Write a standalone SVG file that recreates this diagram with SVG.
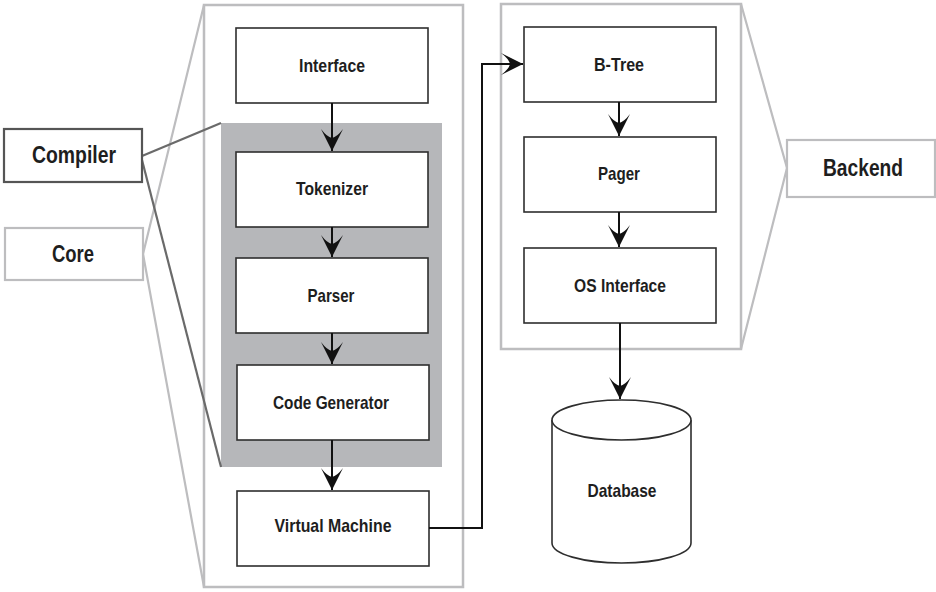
<svg xmlns="http://www.w3.org/2000/svg" width="936" height="592" viewBox="0 0 936 592">
  <style>
    .frame { fill: none; stroke: #bdbdbf; stroke-width: 2.5; }
    .node { fill: #ffffff; stroke: #2e2e2e; stroke-width: 1.6; }
    .label { font-family: "Liberation Sans Narrow", "Liberation Sans", Arial, sans-serif; font-weight: bold; fill: #1e1e1e; text-anchor: middle; }
    .sm { font-size: 18.5px; }
    .lg { font-size: 23px; }
    .flow { fill: none; stroke: #111111; stroke-width: 2; }
    .guide-light { fill: none; stroke: #bdbdbf; stroke-width: 2.2; }
    .guide-dark { fill: none; stroke: #6a6a6a; stroke-width: 2.2; }
  </style>
  <defs>
    <marker id="head" markerUnits="userSpaceOnUse" markerWidth="26" markerHeight="26" viewBox="-24 -13 26 26" refX="0" refY="0" orient="auto">
      <path d="M0,0 L-22,-11 Q-14,-5 -13,0 Q-14,5 -22,11 Z" fill="#111111"/>
    </marker>
  </defs>

  <rect width="936" height="592" fill="#ffffff"/>

  <!-- containers -->
  <g id="core-frame">
    <rect class="frame" x="204" y="5" width="259" height="582"/>
  </g>
  <g id="compiler-band">
    <rect x="221" y="123" width="221" height="344" fill="#b6b7ba"/>
  </g>
  <g id="backend-frame">
    <rect class="frame" x="501" y="4" width="240" height="345"/>
  </g>

  <!-- zoom guides from the side labels -->
  <g id="guides">
    <polyline class="guide-light" points="204,5 143,254 204,587"/>
    <polyline class="guide-dark" points="221,123 142,156"/>
    <polyline class="guide-dark" points="142,160 221,467"/>
    <polyline class="guide-light" points="741,4 787,168 741,349"/>
  </g>

  <!-- side labels -->
  <g id="compiler">
    <rect x="4" y="129" width="138" height="53" fill="#ffffff" stroke="#555555" stroke-width="2.2"/>
    <text class="label lg" x="74" y="163" textLength="84" lengthAdjust="spacingAndGlyphs">Compiler</text>
  </g>
  <g id="core">
    <rect x="5" y="228" width="138" height="52" fill="#ffffff" stroke="#bdbdbf" stroke-width="2.2"/>
    <text class="label lg" x="73" y="262" textLength="42" lengthAdjust="spacingAndGlyphs">Core</text>
  </g>
  <g id="backend">
    <rect x="787" y="140" width="148" height="57" fill="#ffffff" stroke="#bdbdbf" stroke-width="2.2"/>
    <text class="label lg" x="863" y="176" textLength="80" lengthAdjust="spacingAndGlyphs">Backend</text>
  </g>

  <!-- core pipeline -->
  <g id="interface">
    <rect class="node" x="236" y="28" width="192" height="75"/>
    <text class="label sm" x="332" y="72" textLength="66" lengthAdjust="spacingAndGlyphs">Interface</text>
  </g>
  <g id="tokenizer">
    <rect class="node" x="236" y="152" width="192" height="75"/>
    <text class="label sm" x="332" y="195" textLength="72" lengthAdjust="spacingAndGlyphs">Tokenizer</text>
  </g>
  <g id="parser">
    <rect class="node" x="236" y="258" width="192" height="75"/>
    <text class="label sm" x="331" y="302" textLength="47" lengthAdjust="spacingAndGlyphs">Parser</text>
  </g>
  <g id="code-generator">
    <rect class="node" x="237" y="365" width="192" height="75"/>
    <text class="label sm" x="331" y="409" textLength="116" lengthAdjust="spacingAndGlyphs">Code Generator</text>
  </g>
  <g id="virtual-machine">
    <rect class="node" x="237" y="491" width="192" height="75"/>
    <text class="label sm" x="333" y="532" textLength="117" lengthAdjust="spacingAndGlyphs">Virtual Machine</text>
  </g>

  <!-- backend pipeline -->
  <g id="b-tree">
    <rect class="node" x="524" y="27" width="192" height="75"/>
    <text class="label sm" x="619" y="71" textLength="50" lengthAdjust="spacingAndGlyphs">B-Tree</text>
  </g>
  <g id="pager">
    <rect class="node" x="524" y="137" width="192" height="75"/>
    <text class="label sm" x="619" y="180" textLength="42" lengthAdjust="spacingAndGlyphs">Pager</text>
  </g>
  <g id="os-interface">
    <rect class="node" x="524" y="248" width="192" height="75"/>
    <text class="label sm" x="620" y="292" textLength="92" lengthAdjust="spacingAndGlyphs">OS Interface</text>
  </g>
  <g id="database">
    <path d="M552,420 V543 A69.5,20 0 0 0 691,543 V420" fill="#ffffff" stroke="#2e2e2e" stroke-width="1.6"/>
    <ellipse cx="621.5" cy="420" rx="69.5" ry="20" fill="#ffffff" stroke="#2e2e2e" stroke-width="1.6"/>
    <text class="label sm" x="622" y="497" textLength="69" lengthAdjust="spacingAndGlyphs">Database</text>
  </g>

  <!-- connectors -->
  <g id="connectors">
    <line class="flow" x1="332" y1="103" x2="332" y2="151" marker-end="url(#head)"/>
    <line class="flow" x1="332" y1="227" x2="332" y2="257" marker-end="url(#head)"/>
    <line class="flow" x1="332" y1="333" x2="332" y2="364" marker-end="url(#head)"/>
    <line class="flow" x1="332" y1="440" x2="332" y2="490" marker-end="url(#head)"/>
    <path class="flow" d="M429,528 H482 V64 H523" marker-end="url(#head)"/>
    <line class="flow" x1="619" y1="102" x2="619" y2="136" marker-end="url(#head)"/>
    <line class="flow" x1="619" y1="212" x2="619" y2="247" marker-end="url(#head)"/>
    <line class="flow" x1="620" y1="323" x2="620" y2="399" marker-end="url(#head)"/>
  </g>
</svg>
